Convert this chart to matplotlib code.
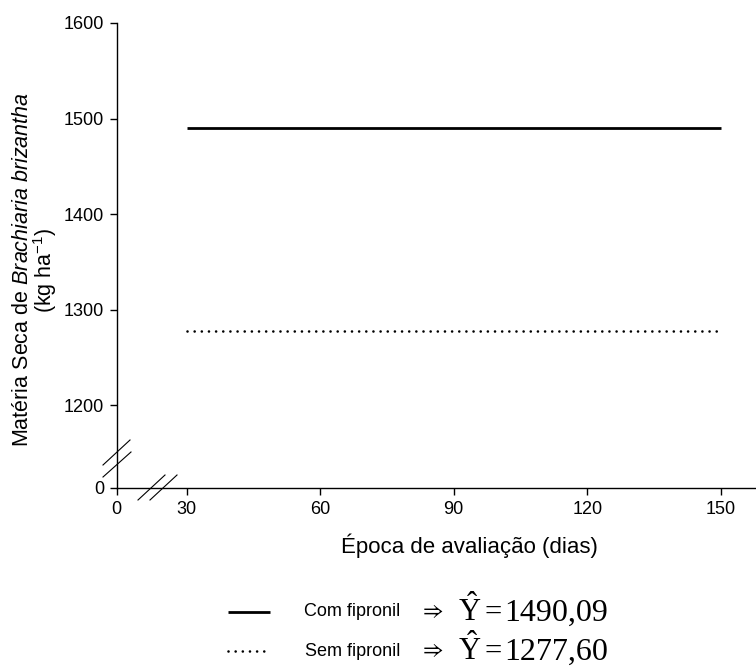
import numpy as np
import matplotlib
matplotlib.use("Agg")
import matplotlib.pyplot as plt
from matplotlib.lines import Line2D

plt.rcParams['font.family'] = ['Liberation Sans', 'DejaVu Sans']
plt.rcParams['mathtext.fontset'] = 'custom'
plt.rcParams['mathtext.rm'] = 'Liberation Serif'
plt.rcParams['mathtext.it'] = 'Liberation Sans:italic'
plt.rcParams['mathtext.sf'] = 'Liberation Sans'

# ---- data ----
days = [30, 150]
com_fipronil = [1490.09, 1490.09]
sem_fipronil = [1277.60, 1277.60]
series_labels = ["Com fipronil", "Sem fipronil"]
eq_values = ["1490,09", "1277,60"]
xticks = [0, 30, 60, 90, 120, 150]
yticks = [0, 1200, 1300, 1400, 1500, 1600]

# ---- broken-axis scales ----
XB, XGAP = 30.0, 15.73      # 0..30 compressed
YB, YGAP = 1200.0, 86.8     # 0..1200 compressed

def fx(x):
    x = np.asarray(x, dtype=float)
    return np.where(x < XB, x * XGAP / XB, XGAP + (x - XB))

def ifx(u):
    u = np.asarray(u, dtype=float)
    return np.where(u < XGAP, u * XB / XGAP, XB + (u - XGAP))

def fy(y):
    y = np.asarray(y, dtype=float)
    return np.where(y < YB, y * YGAP / YB, YGAP + (y - YB))

def ify(u):
    u = np.asarray(u, dtype=float)
    return np.where(u < YGAP, u * YB / YGAP, YB + (u - YGAP))

W, H = 756, 666
fig = plt.figure(figsize=(W / 100, H / 100), dpi=100)
ax = fig.add_axes([116.5 / W, (H - 488) / H, 1 - 116.5 / W, (488 - 23) / H])
ax.set_xscale('function', functions=(fx, ifx))
ax.set_yscale('function', functions=(fy, ify))
ax.set_xlim(0, 157.9)
ax.set_ylim(0, 1600)

solid_kw = dict(color='black', lw=2.0, solid_capstyle='butt')
dot_kw = dict(color='black', lw=1.9, linestyle=(0, (0.01, 2.7)), dash_capstyle='round')
ax.plot(days, com_fipronil, **solid_kw)
ax.plot(days, sem_fipronil, **dot_kw)

for s in ['top', 'right']:
    ax.spines[s].set_visible(False)
for s in ['left', 'bottom']:
    ax.spines[s].set_linewidth(1.0)
ax.set_xticks(xticks)
ax.set_xticklabels([str(t) for t in xticks])
ax.set_yticks(yticks)
ax.set_yticklabels([str(t) for t in yticks])
ax.minorticks_off()
ax.tick_params(direction='out', length=5, width=1.0, labelsize=13, pad=4)

# x label
fig.text(469 / W, (H - 546) / H, "Época de avaliação (dias)",
         ha='center', va='center', fontsize=16)

# y label (two lines, rotated)
fig.text(23 / W, (H - 269) / H, r"Matéria Seca de $\mathit{Brachiaria\ brizantha}$",
         rotation=90, ha='center', va='center', fontsize=15.5)
fig.text(45 / W, (H - 270) / H, r"(kg ha$^{\mathregular{-1}}$)",
         rotation=90, ha='center', va='center', fontsize=15.5)

# break marks (decorations, figure pixel coords)
def fline(x0, y0, x1, y1):
    fig.add_artist(Line2D([x0 / W, x1 / W], [(H - y0) / H, (H - y1) / H],
                          color='black', lw=0.8, transform=fig.transFigure))

fline(103, 465, 130, 440)
fline(103, 477, 131, 452)
fline(138, 500, 165, 475)
fline(150, 500, 177, 475)

# legend-like block
rows_y = [612, 651]
styles = [solid_kw, dot_kw]
for yy, lab, val, st in zip(rows_y, series_labels, eq_values, styles):
    fig.add_artist(Line2D([228 / W, 270 / W], [(H - yy) / H] * 2,
                          transform=fig.transFigure, **st))
    fig.text(400 / W, (H - yy) / H, lab, ha='right', va='center', fontsize=13)
    fig.text(431 / W, (H - yy) / H, r"$\Rightarrow$", ha='center', va='center',
             fontsize=16, math_fontfamily='stix')
    base = (H - yy - 9) / H
    fig.text(458 / W, base, r"$\hat{\mathrm{Y}}$", ha='left', va='baseline', fontsize=22)
    fig.text(484 / W, base, "=", ha='left', va='baseline', fontsize=22,
             family='Liberation Serif')
    fig.text(504 / W, base, val, ha='left', va='baseline', fontsize=23,
             family='Liberation Serif')

fig.savefig("out.png", dpi=100)
